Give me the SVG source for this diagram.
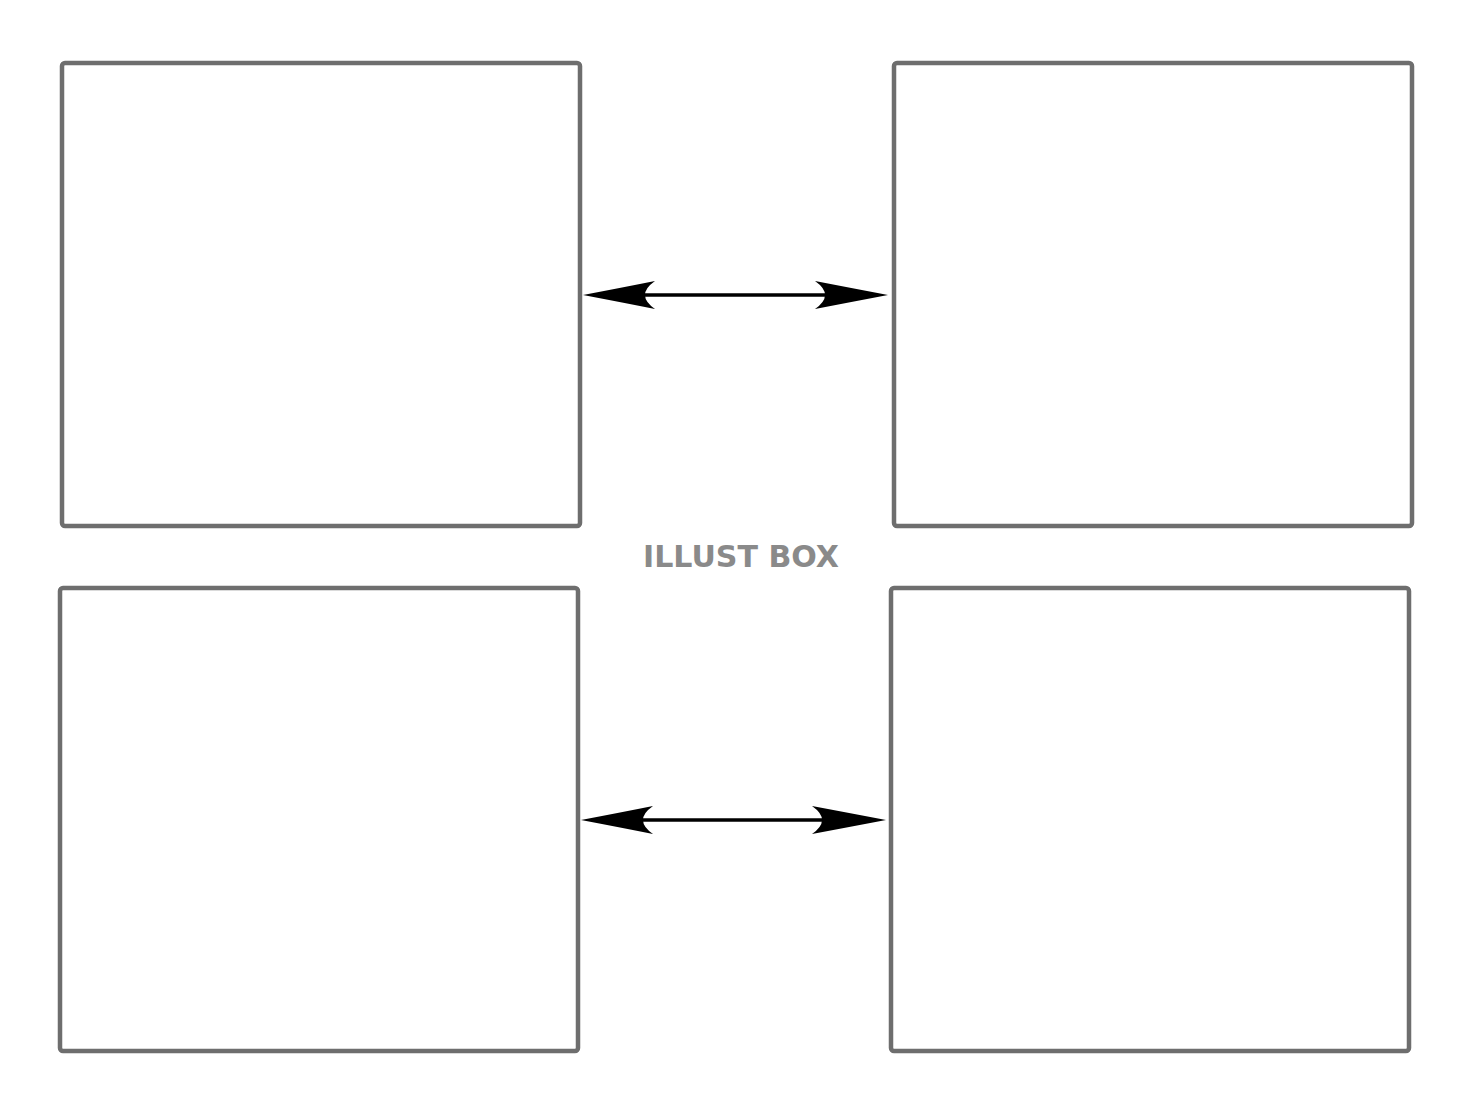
<svg xmlns="http://www.w3.org/2000/svg" width="1480" height="1110" viewBox="0 0 1480 1110">
<style>
.box{fill:#fff;stroke:#6e6e6e;stroke-width:4.5}
.line{stroke:#000;stroke-width:3.5;fill:none}
.head{fill:#000}
.wm{font-family:"DejaVu Sans","Liberation Sans",sans-serif;font-weight:bold;font-size:30px;fill:#8a8a8a}
</style>
<rect width="1480" height="1110" fill="#fff"/>
<g id="box-top-left"><rect class="box" x="62" y="63" width="518" height="463" rx="3"/></g>
<g id="box-top-right"><rect class="box" x="894" y="63" width="518" height="463" rx="3"/></g>
<g id="box-bottom-left"><rect class="box" x="60" y="588" width="518" height="463" rx="3"/></g>
<g id="box-bottom-right"><rect class="box" x="891" y="588" width="518" height="463" rx="3"/></g>
<g id="connectors">
  <line class="line" x1="640" y1="295" x2="830" y2="295"/>
  <path class="head" d="M583,295 Q625,287 655,281 Q645,288 645,295 Q645,302 655,309 Q625,303 583,295 Z"/>
  <path class="head" d="M888,295 Q846,287 815,281 Q825,288 825,295 Q825,302 815,309 Q846,303 888,295 Z"/>
  <line class="line" x1="640" y1="820" x2="828" y2="820"/>
  <path class="head" d="M581,820 Q623,812 653,806 Q643,813 643,820 Q643,827 653,834 Q623,828 581,820 Z"/>
  <path class="head" d="M886,820 Q844,812 812,806 Q822,813 822,820 Q822,827 812,834 Q844,828 886,820 Z"/>
</g>
<text class="wm" x="643" y="567" textLength="196" lengthAdjust="spacingAndGlyphs">ILLUST BOX</text>
</svg>
